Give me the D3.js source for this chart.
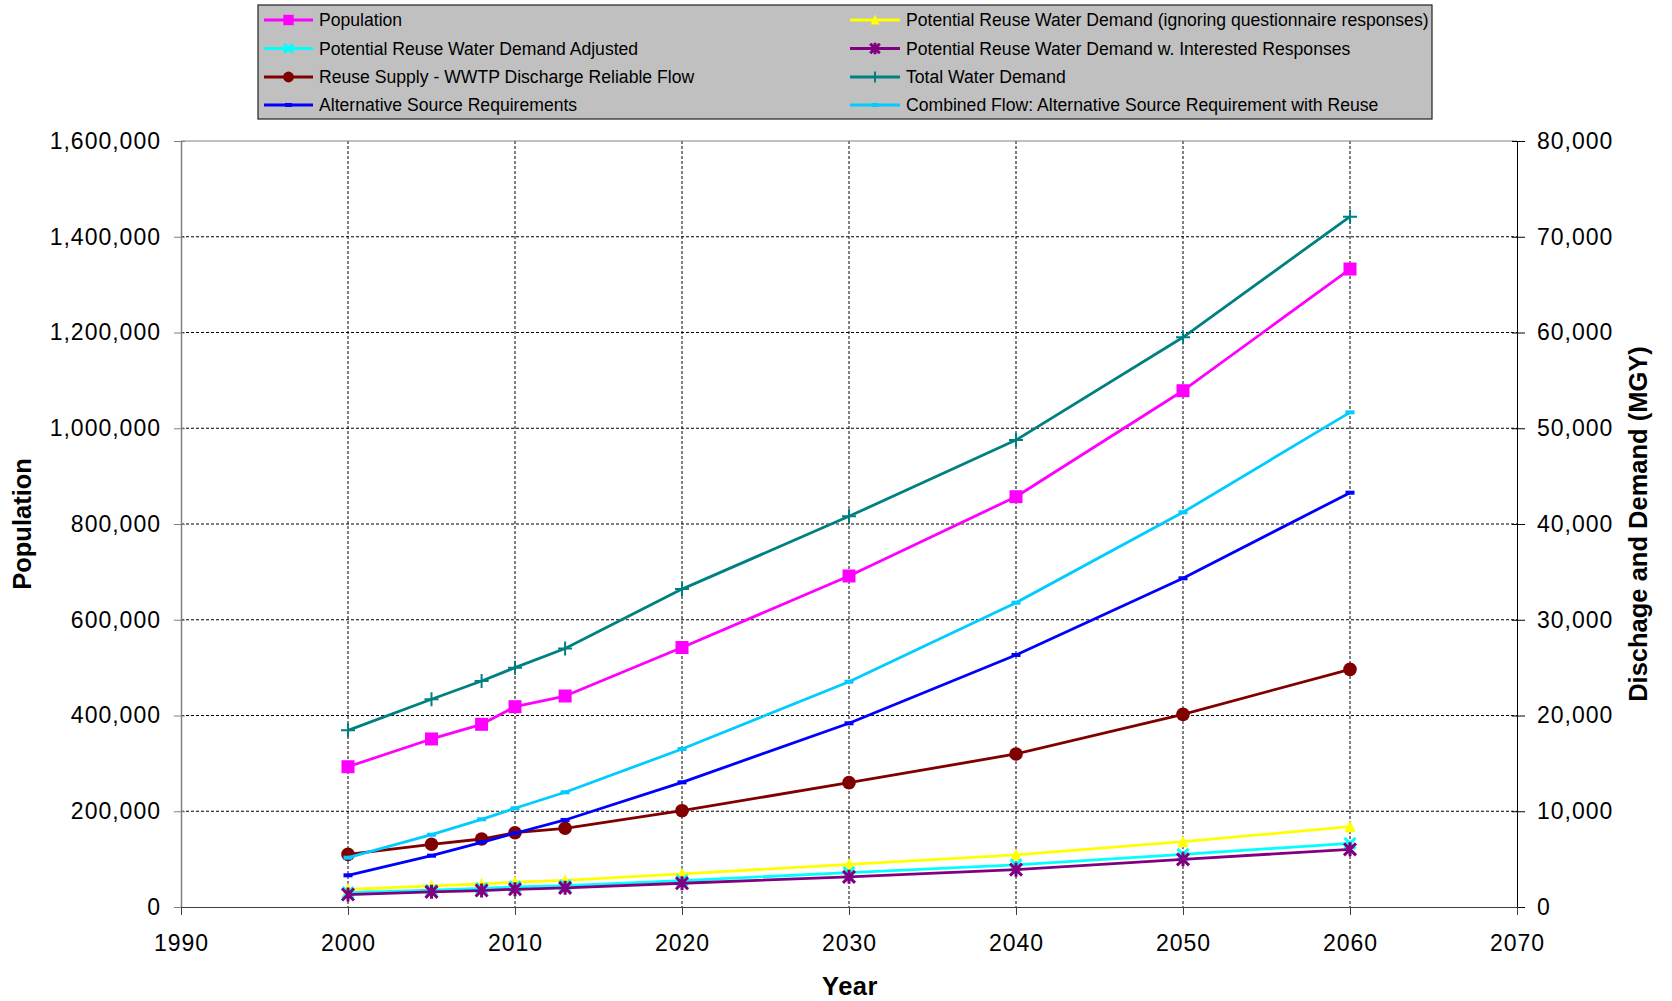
<!DOCTYPE html>
<html>
<head>
<meta charset="utf-8">
<script src="https://cdn.jsdelivr.net/npm/d3@7"></script>
<style>
  html, body { margin: 0; padding: 0; background: #fff; }
  svg { display: block; font-family: "Liberation Sans", Arial, sans-serif; }
</style>
</head>
<body>
<svg id="chart" width="1672" height="1001"></svg>
<script>
// ---------------- DATA ----------------
const years = [2000, 2005, 2008, 2010, 2013, 2020, 2030, 2040, 2050, 2060];

// left axis (Population)
const population = [293000, 351000, 381600, 418400, 440700, 542000, 691400, 857000, 1078400, 1332600];

// right axis (MGY)
const reuseIgnoring   = [1850, 2200, 2400, 2600, 2780, 3450, 4450, 5450, 6820, 8390];
const reuseAdjusted   = [1500, 1750, 1930, 2100, 2230, 2750, 3600, 4400, 5500, 6650];
const reuseInterested = [1300, 1580, 1720, 1850, 2000, 2480, 3150, 3900, 4980, 6020];
const reuseSupply     = [5500, 6550, 7100, 7760, 8220, 10060, 12985, 15980, 20120, 24820];
const totalDemand     = [18450, 21700, 23600, 25000, 27000, 33200, 40800, 48770, 59500, 72100];
const altSource       = [3310, 5360, 6760, 7700, 9090, 13020, 19185, 26320, 34330, 43270];
const combinedFlow    = [5150, 7550, 9160, 10310, 11980, 16500, 23530, 31780, 41220, 51660];

const seriesNames = [
  "Population",
  "Potential Reuse Water Demand (ignoring questionnaire responses)",
  "Potential Reuse Water Demand Adjusted",
  "Potential Reuse Water Demand w. Interested Responses",
  "Reuse Supply - WWTP Discharge Reliable Flow",
  "Total Water Demand",
  "Alternative Source Requirements",
  "Combined Flow: Alternative Source Requirement with Reuse"
];

const xTicks = [1990, 2000, 2010, 2020, 2030, 2040, 2050, 2060, 2070];
const yLeftTicks = [0, 200000, 400000, 600000, 800000, 1000000, 1200000, 1400000, 1600000];
const yRightTicks = [0, 10000, 20000, 30000, 40000, 50000, 60000, 70000, 80000];

// ---------------- STYLE ----------------
const series = [
  {name: seriesNames[0], values: population,      axis: "L", color: "#FF00FF", marker: "square"},
  {name: seriesNames[1], values: reuseIgnoring,   axis: "R", color: "#FFFF00", marker: "triangle"},
  {name: seriesNames[2], values: reuseAdjusted,   axis: "R", color: "#00FFFF", marker: "x"},
  {name: seriesNames[3], values: reuseInterested, axis: "R", color: "#800080", marker: "star"},
  {name: seriesNames[4], values: reuseSupply,     axis: "R", color: "#800000", marker: "circle"},
  {name: seriesNames[5], values: totalDemand,     axis: "R", color: "#008080", marker: "plus"},
  {name: seriesNames[6], values: altSource,       axis: "R", color: "#0000FF", marker: "dash"},
  {name: seriesNames[7], values: combinedFlow,    axis: "R", color: "#00CCFF", marker: "dash"}
];

const L = 181, R = 1517, T = 141, B = 907;
const svg = d3.select("#chart");

const x = d3.scaleLinear().domain([1990, 2070]).range([L, R]);
const yL = d3.scaleLinear().domain([0, 1600000]).range([B, T]);
const yR = d3.scaleLinear().domain([0, 80000]).range([B, T]);

// gridlines
const grid = svg.append("g");
grid.selectAll("line.h").data(yLeftTicks.filter(d => d > 0 && d < 1600000)).enter()
  .append("line").attr("x1", L).attr("x2", R)
  .attr("y1", d => yL(d)).attr("y2", d => yL(d))
  .attr("stroke", "#000").attr("stroke-width", 1).attr("stroke-dasharray", "3,2");
grid.selectAll("line.v").data(xTicks.filter(d => d > 1990 && d < 2070)).enter()
  .append("line").attr("y1", T).attr("y2", B)
  .attr("x1", d => x(d)).attr("x2", d => x(d))
  .attr("stroke", "#000").attr("stroke-width", 1).attr("stroke-dasharray", "3,2");
// top border
svg.append("line").attr("x1", L).attr("x2", R).attr("y1", yL(1600000)).attr("y2", yL(1600000))
  .attr("stroke", "#808080").attr("stroke-width", 1);

// axes
const fmt = d3.format(",");
const tickFont = "23px";
function styleTicks(g) {
  g.selectAll("text").attr("font-size", tickFont).attr("fill", "#000")
    .attr("letter-spacing", "1px")
    .attr("font-family", "Liberation Sans, Arial, sans-serif");
}

const gL = svg.append("g").attr("transform", `translate(${L},0)`)
  .call(d3.axisLeft(yL).tickValues(yLeftTicks).tickFormat(fmt).tickSize(7).tickSizeOuter(0).tickPadding(13));
gL.select(".domain").attr("stroke", "#808080").attr("stroke-width", 1.5);
gL.selectAll(".tick line").attr("stroke", "#808080").attr("x1", 4);
styleTicks(gL);

const gR = svg.append("g").attr("transform", `translate(${R},0)`)
  .call(d3.axisRight(yR).tickValues(yRightTicks).tickFormat(fmt).tickSize(8).tickSizeOuter(0).tickPadding(12));
gR.select(".domain").attr("stroke", "#000").attr("stroke-width", 1);
gR.selectAll(".tick line").attr("stroke", "#000").attr("x1", -5);
styleTicks(gR);

const gB = svg.append("g").attr("transform", `translate(0,${B})`)
  .call(d3.axisBottom(x).tickValues(xTicks).tickFormat(d3.format("d")).tickSize(8).tickSizeOuter(0).tickPadding(20));
gB.select(".domain").attr("stroke", "#404040").attr("stroke-width", 1.2);
gB.selectAll(".tick line").attr("stroke", "#404040");
styleTicks(gB);

// titles
svg.append("text").attr("x", 850).attr("y", 995).attr("text-anchor", "middle")
  .attr("font-size", "25.5px").attr("font-weight", "bold").attr("letter-spacing", "0.5px").text("Year");
svg.append("text").attr("transform", "translate(31,524) rotate(-90)").attr("text-anchor", "middle")
  .attr("font-size", "25.5px").attr("font-weight", "bold").text("Population");
svg.append("text").attr("transform", "translate(1647,524) rotate(-90)").attr("text-anchor", "middle")
  .attr("font-size", "25.5px").attr("font-weight", "bold").text("Dischage and Demand (MGY)");

// markers
function drawMarker(g, type, cx, cy, color, s) {
  s = s || 1;
  switch (type) {
    case "square": {
      const w = 13 * s;
      g.append("rect").attr("x", cx - w / 2).attr("y", cy - w / 2).attr("width", w).attr("height", w).attr("fill", color);
      break;
    }
    case "triangle": {
      const h = 11 * s, w = 11 * s;
      g.append("path").attr("d", `M${cx},${cy - h / 2 - 1}L${cx + w / 2},${cy + h / 2}L${cx - w / 2},${cy + h / 2}Z`).attr("fill", color);
      break;
    }
    case "x": {
      const r = 5.5 * s;
      g.append("path").attr("d", `M${cx - r},${cy - r}L${cx + r},${cy + r}M${cx - r},${cy + r}L${cx + r},${cy - r}`)
        .attr("stroke", color).attr("stroke-width", 3).attr("fill", "none");
      break;
    }
    case "star": {
      const r = 6 * s;
      g.append("path").attr("d", `M${cx - r},${cy - r}L${cx + r},${cy + r}M${cx - r},${cy + r}L${cx + r},${cy - r}M${cx},${cy - r - 1}L${cx},${cy + r + 1}`)
        .attr("stroke", color).attr("stroke-width", 3).attr("fill", "none");
      break;
    }
    case "circle":
      g.append("circle").attr("cx", cx).attr("cy", cy).attr("r", 6.8 * s).attr("fill", color);
      break;
    case "plus": {
      const r = 7 * s;
      g.append("path").attr("d", `M${cx - r},${cy}L${cx + r},${cy}M${cx},${cy - r}L${cx},${cy + r}`)
        .attr("stroke", color).attr("stroke-width", 2).attr("fill", "none");
      break;
    }
    case "dash": {
      const w = 9 * s, h = 4;
      g.append("rect").attr("x", cx - w / 2).attr("y", cy - h / 2).attr("width", w).attr("height", h).attr("fill", color);
      break;
    }
  }
}

// series
const plot = svg.append("g");
series.forEach(sr => {
  const ys = sr.axis === "L" ? yL : yR;
  const pts = years.map((yr, i) => [yr, sr.values[i]]);
  const g = plot.append("g");
  g.append("path").datum(pts)
    .attr("d", d3.line().x(d => x(d[0])).y(d => ys(d[1])))
    .attr("fill", "none").attr("stroke", sr.color).attr("stroke-width", 2.8).attr("stroke-linejoin", "round");
  pts.forEach(d => drawMarker(g, sr.marker, x(d[0]), ys(d[1]), sr.color, 1));
});

// legend
const lg = svg.append("g");
lg.append("rect").attr("x", 258).attr("y", 5).attr("width", 1174).attr("height", 114)
  .attr("fill", "#C0C0C0").attr("stroke", "#202020").attr("stroke-width", 1.2);
const rowY = [20, 48.5, 77, 105];
const cols = [{x1: 264, x2: 313, tx: 319}, {x1: 850, x2: 900, tx: 906}];
series.forEach((sr, i) => {
  const row = Math.floor(i / 2), col = i % 2;
  const c = cols[col], cy = rowY[row];
  lg.append("line").attr("x1", c.x1).attr("x2", c.x2).attr("y1", cy).attr("y2", cy)
    .attr("stroke", sr.color).attr("stroke-width", 2.8);
  drawMarker(lg, sr.marker, (c.x1 + c.x2) / 2, cy, sr.color, 0.8);
  lg.append("text").attr("x", c.tx).attr("y", cy).attr("dy", "0.35em")
    .attr("font-size", "17.6px").attr("fill", "#000").text(sr.name);
});
</script>
</body>
</html>
